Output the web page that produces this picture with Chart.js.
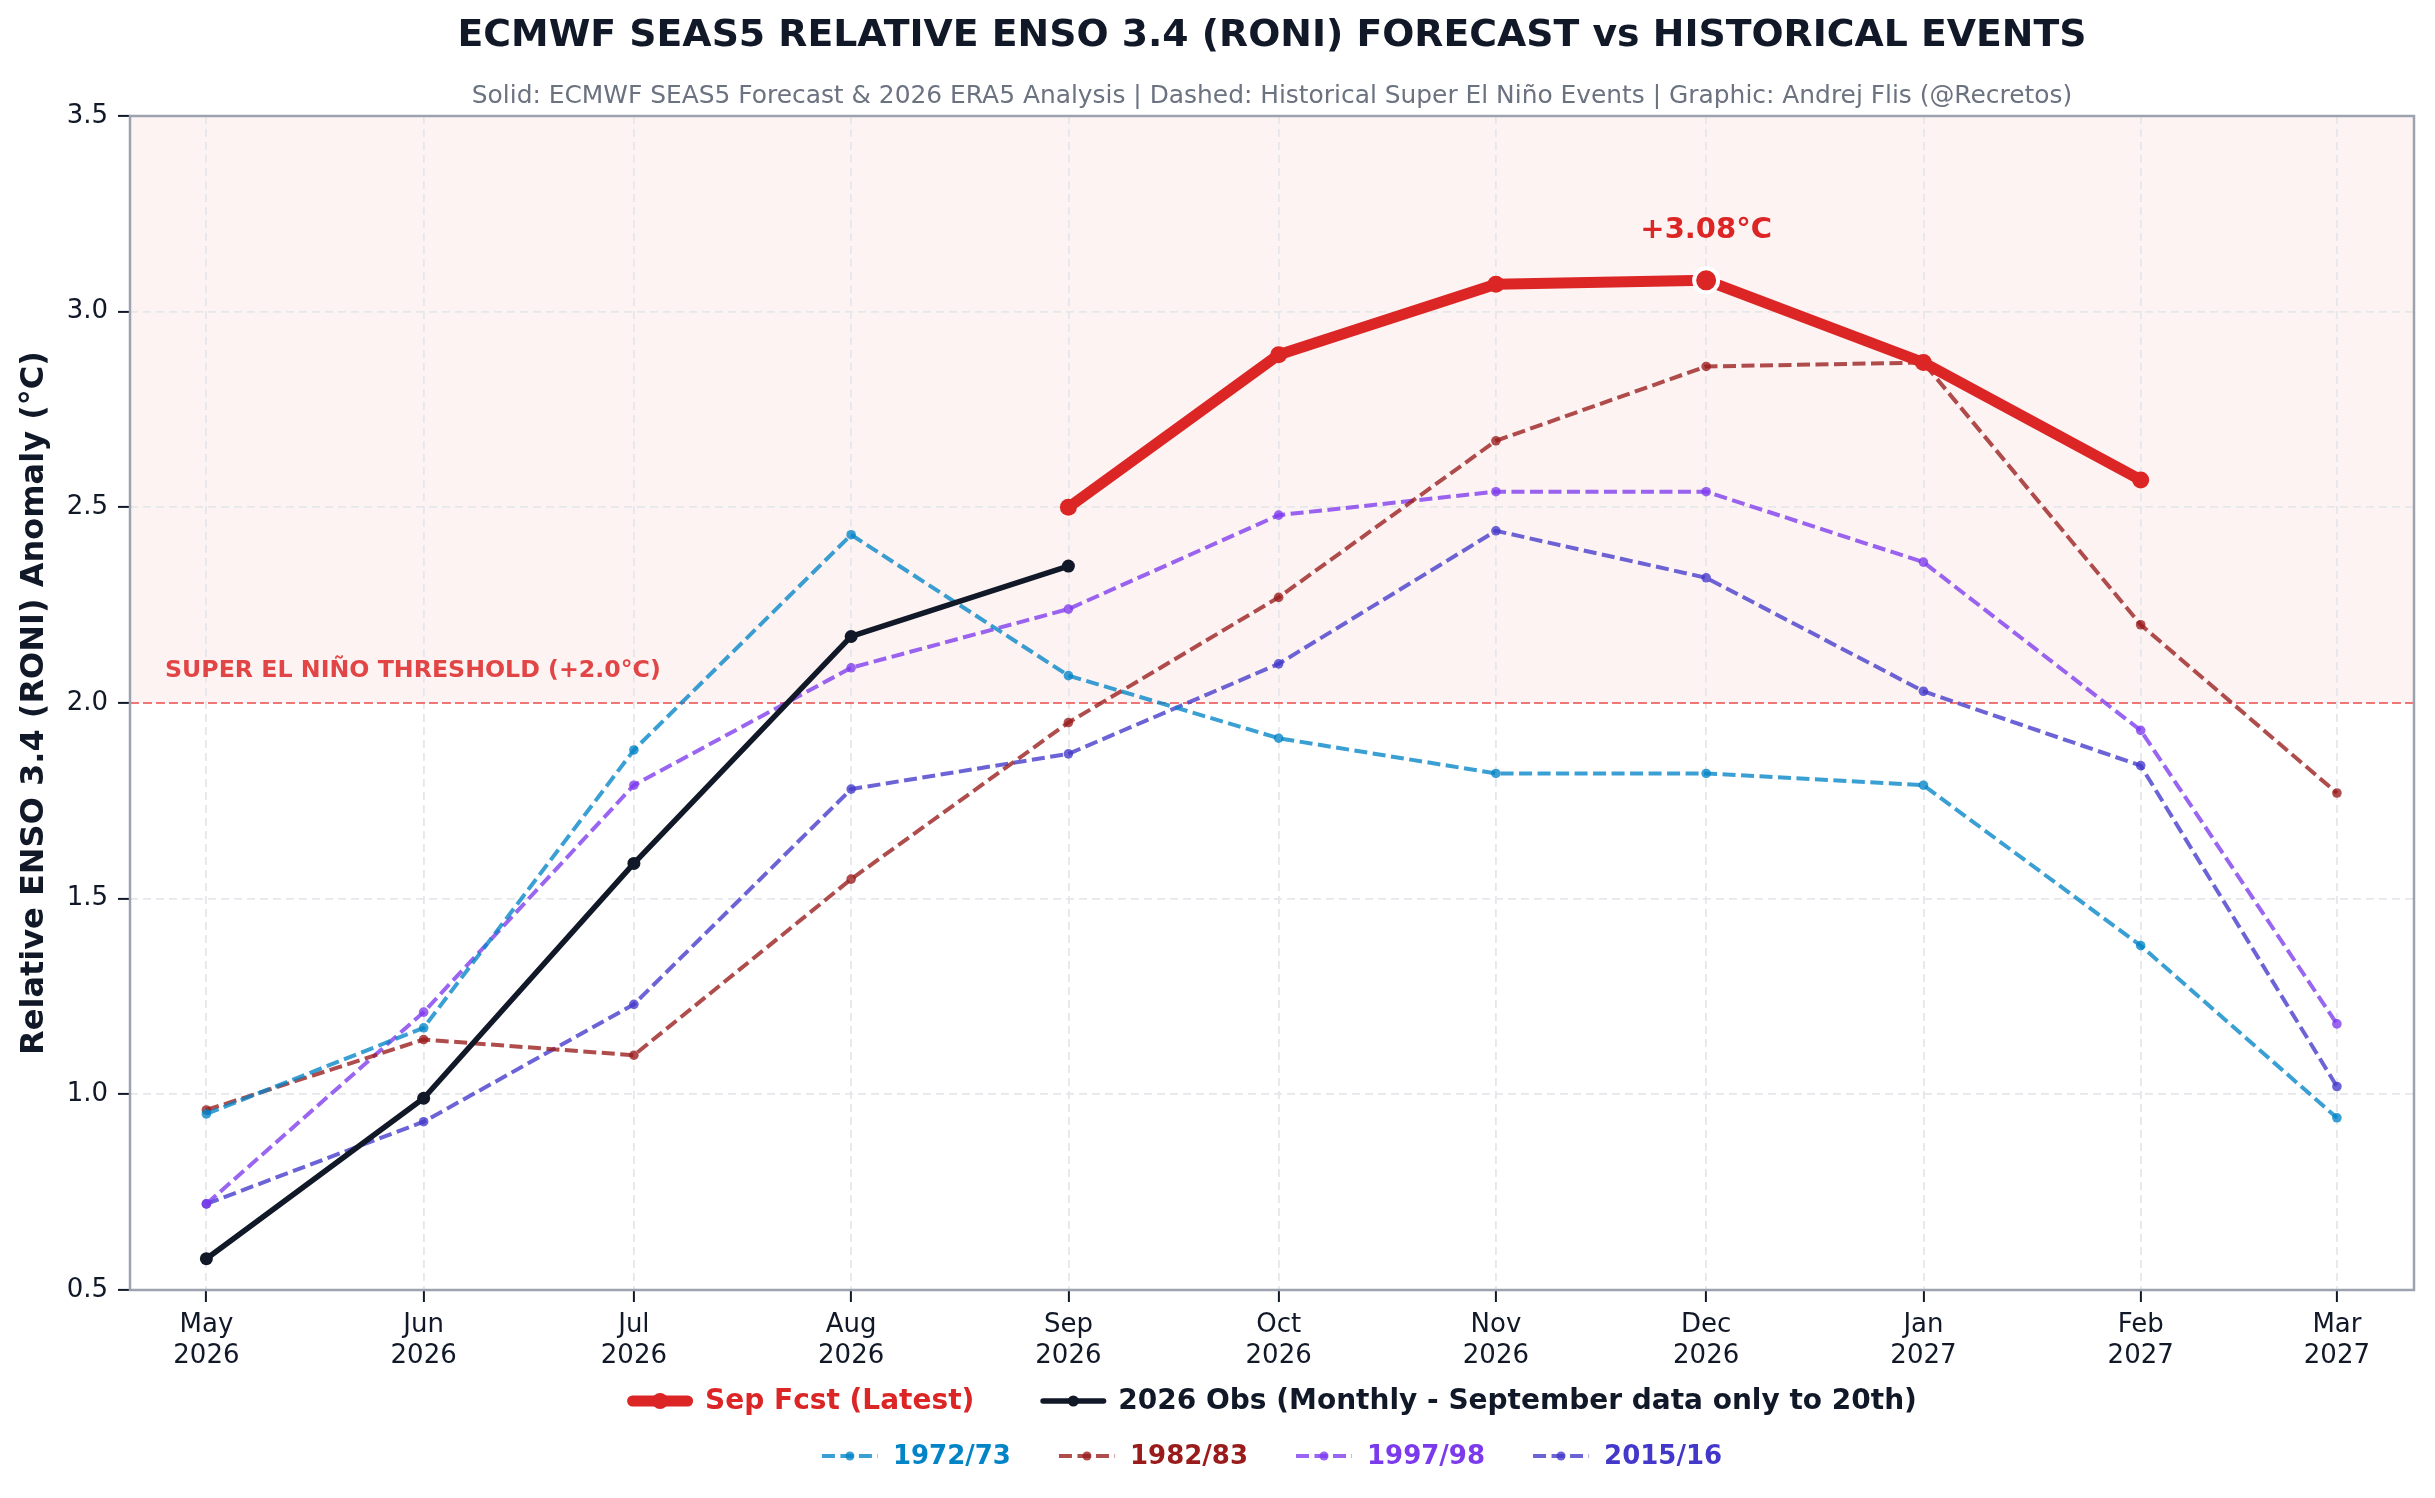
<!DOCTYPE html>
<html><head><meta charset="utf-8">
<script src="https://cdn.jsdelivr.net/npm/chart.js@4.4.1/dist/chart.umd.min.js"></script>
<style>html,body{margin:0;padding:0;background:#fff}canvas{display:block;width:2435px;height:1498px}</style>
</head><body>
<canvas id="c" width="2435" height="1498"></canvas>
<script>
// ---------- DATA ----------
const MONTHS = ['2026-05','2026-06','2026-07','2026-08','2026-09','2026-10','2026-11','2026-12','2027-01','2027-02','2027-03'];
const TICK_MONTH = ['May','Jun','Jul','Aug','Sep','Oct','Nov','Dec','Jan','Feb','Mar'];
const TICK_YEAR  = ['2026','2026','2026','2026','2026','2026','2026','2026','2027','2027','2027'];
const Y_TICKS = [0.5, 1.0, 1.5, 2.0, 2.5, 3.0, 3.5];

const SEP_FCST = [null, null, null, null, 2.50, 2.89, 3.07, 3.08, 2.87, 2.57, null];
const OBS_2026 = [0.58, 0.99, 1.59, 2.17, 2.35, null, null, null, null, null, null];
const EV_1972  = [0.95, 1.17, 1.88, 2.43, 2.07, 1.91, 1.82, 1.82, 1.79, 1.38, 0.94];
const EV_1982  = [0.96, 1.14, 1.10, 1.55, 1.95, 2.27, 2.67, 2.86, 2.87, 2.20, 1.77];
const EV_1997  = [0.72, 1.21, 1.79, 2.09, 2.24, 2.48, 2.54, 2.54, 2.36, 1.93, 1.18];
const EV_2015  = [0.72, 0.93, 1.23, 1.78, 1.87, 2.10, 2.44, 2.32, 2.03, 1.84, 1.02];
const THRESHOLD = 2.0;

const TITLE = 'ECMWF SEAS5 RELATIVE ENSO 3.4 (RONI) FORECAST vs HISTORICAL EVENTS';
const SUBTITLE = 'Solid: ECMWF SEAS5 Forecast & 2026 ERA5 Analysis | Dashed: Historical Super El Niño Events | Graphic: Andrej Flis (@Recretos)';
const Y_LABEL = 'Relative ENSO 3.4 (RONI) Anomaly (°C)';
const THRESH_LABEL = 'SUPER EL NIÑO THRESHOLD (+2.0°C)';

// ---------- helpers ----------
const FONT = '"DejaVu Sans", "Liberation Sans", sans-serif';
const base = Date.UTC(2026, 4, 1);
function dayOffset(m){ const [y, mo] = m.split('-').map(Number); return (Date.UTC(y, mo - 1, 1) - base) / 86400000; }
const X_POS = MONTHS.map(dayOffset);
function series(vals){ return MONTHS.map((m, i) => ({x: X_POS[i], y: vals[i]})).filter(p => p.y !== null); }

const fcstData = series(SEP_FCST);
let peakIdx = 0; fcstData.forEach((p, i) => { if (p.y > fcstData[peakIdx].y) peakIdx = i; });

const RED = '#dc2626', OBS = '#111827';
const EVENTS = [
  {label: '1972/73', vals: EV_1972, text: '#0284c7', line: 'rgba(2,132,199,0.78)'},
  {label: '1982/83', vals: EV_1982, text: '#991b1b', line: 'rgba(153,27,27,0.78)'},
  {label: '1997/98', vals: EV_1997, text: '#7c3aed', line: 'rgba(124,58,237,0.78)'},
  {label: '2015/16', vals: EV_2015, text: '#4338ca', line: 'rgba(67,56,202,0.78)'}
];

const datasets = [
  {label: 'Sep Fcst (Latest)', data: fcstData, borderColor: RED, backgroundColor: RED, borderWidth: 11,
   pointBackgroundColor: RED, pointRadius: c => c.dataIndex === peakIdx ? 12 : 8.5,
   pointBorderColor: c => c.dataIndex === peakIdx ? '#ffffff' : RED,
   pointBorderWidth: c => c.dataIndex === peakIdx ? 4 : 0,
   borderJoinStyle: 'round', textColor: RED, legendRow: 0, legendR: 8},
  {label: '2026 Obs (Monthly - September data only to 20th)', data: series(OBS_2026), borderColor: OBS, backgroundColor: OBS,
   borderWidth: 5.5, pointBackgroundColor: OBS, pointRadius: 6.5, pointBorderWidth: 0, borderJoinStyle: 'round', textColor: OBS, legendRow: 0, legendR: 5.5}
].concat(EVENTS.map(e => ({
  label: e.label, data: series(e.vals), borderColor: e.line, backgroundColor: e.line, borderWidth: 4,
  borderDash: [13, 5.5], pointBackgroundColor: e.line, pointRadius: 4.8, pointBorderWidth: 0,
  textColor: e.text, legendRow: 1, legendR: 4.5
})));

// ---------- plugin ----------
const decor = {
  id: 'decor',
  beforeDraw(chart){
    const {ctx, chartArea: a, scales: {y}} = chart;
    ctx.save();
    ctx.fillStyle = '#ffffff'; ctx.fillRect(0, 0, chart.width, chart.height);
    const yt = y.getPixelForValue(THRESHOLD);
    ctx.fillStyle = '#fdf3f3';
    ctx.fillRect(a.left, a.top, a.right - a.left, yt - a.top);
    ctx.restore();
  },
  beforeDatasetsDraw(chart){
    const {ctx, chartArea: a, scales: {y}} = chart;
    const yt = y.getPixelForValue(THRESHOLD);
    ctx.save();
    ctx.strokeStyle = 'rgba(239,68,68,0.7)'; ctx.lineWidth = 2.2; ctx.setLineDash([9, 4]);
    ctx.beginPath(); ctx.moveTo(a.left, yt); ctx.lineTo(a.right, yt); ctx.stroke();
    ctx.setLineDash([]);
    ctx.fillStyle = 'rgba(220,38,38,0.85)';
    ctx.font = 'bold 23.7px ' + FONT; ctx.textAlign = 'left'; ctx.textBaseline = 'middle';
    ctx.fillText(THRESH_LABEL, a.left + 35, yt - 32);
    ctx.restore();
  },
  afterDatasetsDraw(chart){
    const {ctx, chartArea: a} = chart;
    ctx.save();
    ctx.strokeStyle = '#9ca3af'; ctx.lineWidth = 2.5;
    ctx.strokeRect(a.left, a.top, a.right - a.left, a.bottom - a.top);
    const pt = chart.getDatasetMeta(0).data[peakIdx];
    ctx.fillStyle = RED; ctx.font = 'bold 29px ' + FONT; ctx.textAlign = 'center'; ctx.textBaseline = 'middle';
    ctx.fillText('+' + fcstData[peakIdx].y.toFixed(2) + '°C', pt.x, pt.y - 50);
    ctx.restore();
  },
  afterDraw(chart){
    const {ctx, chartArea: a} = chart;
    const cx = (a.left + a.right) / 2;
    ctx.save();
    ctx.textAlign = 'center'; ctx.textBaseline = 'middle';
    ctx.fillStyle = '#111827'; ctx.font = 'bold 37.8px ' + FONT;
    ctx.fillText(TITLE, cx, 36);
    ctx.fillStyle = '#6b7280'; ctx.font = '24.9px ' + FONT;
    ctx.fillText(SUBTITLE, cx, 97);
    // y label
    ctx.save();
    ctx.translate(35, (a.top + a.bottom) / 2); ctx.rotate(-Math.PI / 2);
    ctx.fillStyle = '#111827'; ctx.font = 'bold 32px ' + FONT;
    ctx.fillText(Y_LABEL, 0, 0);
    ctx.restore();
    // legend
    const rows = [[], []];
    chart.data.datasets.forEach(ds => rows[ds.legendRow].push(ds));
    const cfg = [
      {y: 1401, font: 28, L: 66, tp: 12, gap: 66},
      {y: 1456, font: 26, L: 56, tp: 15, gap: 48}
    ];
    rows.forEach((items, r) => {
      const c = cfg[r];
      ctx.font = 'bold ' + c.font + 'px ' + FONT;
      let total = 0;
      items.forEach((ds, i) => { total += c.L + c.tp + ctx.measureText(ds.label).width + (i ? c.gap : 0); });
      let x = cx - total / 2; const cy = c.y;
      items.forEach((ds, i) => {
        if (i) x += c.gap;
        ctx.save();
        ctx.strokeStyle = ds.borderColor; ctx.lineWidth = ds.borderWidth; ctx.setLineDash(ds.borderDash || []);
        ctx.lineCap = ds.borderDash ? 'butt' : 'round';
        ctx.beginPath(); ctx.moveTo(x + (ds.borderDash ? 0 : ds.borderWidth / 2), cy);
        ctx.lineTo(x + c.L - (ds.borderDash ? 0 : ds.borderWidth / 2), cy); ctx.stroke();
        ctx.setLineDash([]); ctx.fillStyle = ds.pointBackgroundColor;
        ctx.beginPath(); ctx.arc(x + c.L / 2, cy, ds.legendR, 0, Math.PI * 2); ctx.fill();
        ctx.restore();
        x += c.L + c.tp;
        ctx.fillStyle = ds.textColor; ctx.textAlign = 'left'; ctx.textBaseline = 'middle';
        const w = ctx.measureText(ds.label).width;
        ctx.fillText(ds.label, x, cy + 1);
        x += w;
      });
    });
    ctx.restore();
  }
};

Chart.defaults.font.family = FONT;
new Chart(document.getElementById('c'), {
  type: 'line',
  data: {datasets},
  options: {
    responsive: false, devicePixelRatio: 1, animation: false,
    layout: {padding: {left: 0, top: 116, right: 21, bottom: 0}},
    plugins: {legend: {display: false}, title: {display: false}, tooltip: {enabled: false}},
    elements: {line: {tension: 0}},
    scales: {
      x: {
        type: 'linear', min: -10.9, max: 315,
        afterBuildTicks: s => { s.ticks = X_POS.map(v => ({value: v})); },
        afterFit: s => { s.height = 208; },
        grid: {color: '#e5e7eb', lineWidth: 1.8, drawTicks: true, tickLength: 12, tickColor: '#111827', tickWidth: 2},
        border: {display: false, dash: [8, 5]},
        ticks: {autoSkip: false, maxRotation: 0, padding: 8, color: '#111827', font: {size: 26, lineHeight: 1.18},
                callback: (v, i) => [TICK_MONTH[i], TICK_YEAR[i]]}
      },
      y: {
        type: 'linear', min: Y_TICKS[0], max: Y_TICKS[Y_TICKS.length - 1],
        afterBuildTicks: s => { s.ticks = Y_TICKS.map(v => ({value: v})); },
        afterFit: s => { s.width = 130; },
        grid: {color: '#e5e7eb', lineWidth: 1.8, drawTicks: true, tickLength: 12, tickColor: '#111827', tickWidth: 2},
        border: {display: false, dash: [8, 5]},
        ticks: {padding: 10, color: '#111827', font: {size: 26}, callback: v => Number(v).toFixed(1)}
      }
    }
  },
  plugins: [decor]
});
</script>
</body></html>
